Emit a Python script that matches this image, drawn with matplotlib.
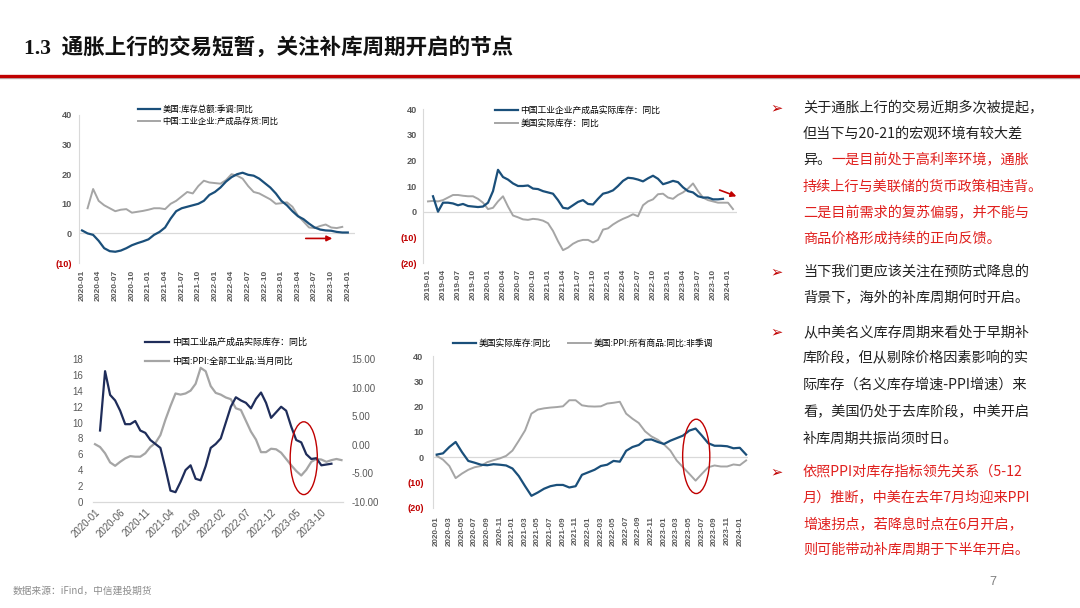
import matplotlib
matplotlib.use("Agg")
import matplotlib.pyplot as plt
from matplotlib.patches import Ellipse

plt.rcParams['font.family'] = ['Liberation Sans', 'Noto Sans CJK SC', 'DejaVu Sans']

W, H = 1080, 608
BLUE = '#1A4F7A'
NAVY = '#1F2D5A'
GRAY = '#A5A5A5'
RED = '#C00000'
TXT_RED = '#E0201E'
TICK = '#595959'
CJK = ['Noto Sans CJK SC', 'DejaVu Sans']

# ---- chart 1 : 2020-01 .. 2024-01 (monthly index 0..48)
c1_us_total = [1, 0, -0.5, -2.5, -5, -6, -6.2, -5.8, -5, -4, -3.3, -2.7,
               -2, -0.5, 0.5, 2, 5, 7.5, 8.5, 9, 9.5, 10, 11, 13,
               14, 15.5, 17.5, 19, 20, 20.5, 19.8, 19.5, 18.5, 17, 15.5, 13.5,
               11, 9.5, 7.5, 5.8, 4.8, 3.3, 2, 1.3, 1, 0.9, 0.5, 0.3,
               0.3]
# 2020-02 .. 2023-12
c1_cn_goods = [8.5, 15, 11, 9.5, 8.5, 7.5, 8, 8.2, 7, 7.3, 7.6,
               8, 8.5, 8.5, 8.2, 10, 11, 12.5, 14, 13.5, 16, 17.8, 17.2,
               17, 16.8, 18, 20, 19.5, 18.5, 16, 14, 13.5, 12.5, 11.5, 10,
               10.2, 10.5, 9, 6, 4, 2, 1.8, 2.5, 3, 2, 1.8, 2.2]
c1_ticks = ['2020-01', '2020-04', '2020-07', '2020-10', '2021-01', '2021-04',
            '2021-07', '2021-10', '2022-01', '2022-04', '2022-07', '2022-10',
            '2023-01', '2023-04', '2023-07', '2023-10', '2024-01']

# ---- chart 2 : 2019-01 .. 2024-02 (index 0..61)
# 2019-02 .. 2023-12
c2_cn_real = [6, 0, 3.5, 3.5, 3.2, 2.5, 3, 2.2, 2, 1.8, 2,
              3.5, 8, 16.3, 13.5, 12.5, 11, 10, 10, 10.2, 9, 8.8, 8,
              7.5, 7, 4.5, 1.5, 1.2, 2.5, 3.8, 4.5, 3, 2.8, 5, 7,
              7.5, 8.3, 10, 12, 13.2, 13, 12.5, 11.8, 13, 14, 12.8, 10.7,
              11.3, 12, 11.5, 9.5, 8, 7.5, 6, 5.5, 5.5, 4.8, 4.8, 5]
# 2019-01 .. 2024-02
c2_us_real = [4, 4.2, 4, 4.5, 5.5, 6.5, 6.5, 6.2, 6, 6, 5, 3.5,
              1, 1.5, 4, 6, 2, -1.5, -2.2, -3, -3.2, -2.8, -3, -3.5,
              -4.5, -7.5, -11.5, -15, -14, -12.5, -11.5, -11, -11, -12, -11, -7,
              -6.5, -5, -3.8, -2.8, -2, -1, -1.8, 2.5, 4, 4.8, 6.8, 7,
              5.5, 5, 6.5, 7.5, 9, 11, 8, 5.5, 4.5, 4, 3.5, 3.5,
              3.5, 1]
c2_ticks = ['2019-01', '2019-04', '2019-07', '2019-10', '2020-01', '2020-04',
            '2020-07', '2020-10', '2021-01', '2021-04', '2021-07', '2021-10',
            '2022-01', '2022-04', '2022-07', '2022-10', '2023-01', '2023-04',
            '2023-07', '2023-10', '2024-01']

# ---- chart 3 : 2020-01 .. 2024-02
# 2020-02 .. 2023-12 (left axis)
c3_cn_real = [9, 16.5, 13.5, 12.8, 11.5, 9.8, 9.8, 10.2, 9, 8.7, 7.8,
              7.3, 6.8, 4.2, 1.4, 1.2, 2.5, 4, 4.6, 2.9, 2.7, 4.5, 6.8,
              7.3, 8, 10, 12, 13.2, 12.8, 12.5, 11.8, 13, 13.8, 12.5, 10.6,
              11.3, 12, 11.5, 9.5, 7.8, 7.5, 6, 5.4, 5.5, 4.6, 4.7, 4.8]
# 2020-01 .. 2024-02 (right axis)
c3_cn_ppi = [0.1, -0.4, -1.5, -3.1, -3.7, -3.0, -2.4, -2.0, -2.1, -2.1, -1.5, -0.4,
             0.3, 1.7, 4.4, 6.8, 9.0, 8.8, 9.0, 9.5, 10.7, 13.5, 12.9, 10.3,
             9.1, 8.8, 8.3, 8.0, 6.4, 6.1, 4.2, 2.3, 0.9, -1.3, -1.3, -0.7,
             -0.8, -1.4, -2.5, -3.6, -4.6, -5.4, -4.4, -3.0, -2.5, -2.6, -3.0, -2.7,
             -2.5, -2.7]
c3_ticks = ['2020-01', '2020-06', '2020-11', '2021-04', '2021-09', '2022-02',
            '2022-07', '2022-12', '2023-05', '2023-10']

# ---- chart 4 : 2020-01 .. 2024-02
c4_us_real = [1, 1.5, 4, 6, 2, -1.5, -2.2, -3, -3.2, -2.8, -3, -3.3,
              -4.5, -7.5, -11.5, -15.3, -14, -12.5, -11.5, -11, -11, -12, -11.5, -7,
              -6, -5, -3.5, -3, -1.5, -1.8, 2.5, 4, 4.8, 6.8, 7, 6,
              5.2, 6.5, 7.5, 8.5, 10.5, 11.3, 8.5, 5.5, 4.5, 4.5, 4.3, 3.5,
              3.7, 1]
c4_us_ppi = [0.5, -1, -3.5, -8.3, -6.5, -5, -4, -3.5, -2, -1.2, -0.5, 0.5,
             2.6, 6.5, 10.6, 17.2, 18.8, 19.3, 19.6, 19.8, 20.1, 22.5, 22.5, 20.5,
             20.1, 20, 20.1, 21.2, 21.5, 21.9, 17.2, 15.2, 13.5, 10.2, 8.2, 6.9,
             5, 2.6, -1.3, -4, -6.6, -9.3, -6.6, -4, -3.3, -3.7, -3.7, -2.9,
             -3.2, -1.3]
c4_ticks = ['2020-01', '2020-03', '2020-05', '2020-07', '2020-09', '2020-11',
            '2021-01', '2021-03', '2021-05', '2021-07', '2021-09', '2021-11',
            '2022-01', '2022-03', '2022-05', '2022-07', '2022-09', '2022-11',
            '2023-01', '2023-03', '2023-05', '2023-07', '2023-09', '2023-11',
            '2024-01']

fig = plt.figure(figsize=(W / 100, H / 100), dpi=100)


def axes_px(x0, y0, x1, y1):
    return fig.add_axes([x0 / W, 1 - y1 / H, (x1 - x0) / W, (y1 - y0) / H])


def fx(x):
    return x / W


def fy(y):
    return 1 - y / H


def style_ax(ax, yticks, ylabels, xtick_pos, xtick_lab, ypad, xpad, fs):
    for s in ['top', 'right', 'bottom']:
        ax.spines[s].set_visible(False)
    ax.spines['left'].set_color('#D9D9D9')
    ax.axhline(0, color='#D9D9D9', lw=0.9, zorder=0)
    ax.set_yticks(yticks)
    ax.set_yticklabels(ylabels, fontsize=6.6, fontweight='bold', color=TICK)
    for t in ax.get_yticklabels():
        if t.get_text().startswith('('):
            t.set_color(RED)
    ax.set_xticks(xtick_pos)
    ax.set_xticklabels(xtick_lab, rotation=90, fontsize=fs, fontweight='bold', color=TICK)
    ax.tick_params(axis='y', length=0, pad=ypad)
    ax.tick_params(axis='x', length=0, pad=xpad)


# ---------------- chart 1
ax1 = axes_px(79, 115, 355, 263)
ax1.plot(range(len(c1_us_total)), c1_us_total, color=BLUE, lw=1.6, zorder=3,
         label='美国:库存总额:季调:同比')
ax1.plot(range(1, 1 + len(c1_cn_goods)), c1_cn_goods, color=GRAY, lw=1.4, zorder=2,
         label='中国:工业企业:产成品存货:同比')
ax1.set_xlim(-0.55, 49.3)
ax1.set_ylim(-10, 40)
style_ax(ax1, [-10, 0, 10, 20, 30, 40], ['(10)', '0', '10', '20', '30', '40'],
         range(0, 49, 3), c1_ticks, 5, 5, 6)
ax1.annotate('', xy=(45.7, -1.7), xytext=(39.9, -1.7), annotation_clip=False,
             arrowprops=dict(arrowstyle='-|>', color=RED, lw=1.2, mutation_scale=8))
ax1.legend(loc='upper left', bbox_to_anchor=(fx(138), fy(105)), bbox_transform=fig.transFigure,
           frameon=False, handlelength=2.6, handletextpad=0.3,
           labelspacing=0.4, borderpad=0, borderaxespad=0, prop={'family': CJK, 'size': 6})

# ---------------- chart 2
ax2 = axes_px(422.7, 109, 737, 263)
ax2.plot(range(1, 1 + len(c2_cn_real)), c2_cn_real, color=BLUE, lw=1.6, zorder=3,
         label='中国工业企业产成品实际库存：同比')
ax2.plot(range(len(c2_us_real)), c2_us_real, color=GRAY, lw=1.4, zorder=2,
         label='美国实际库存：同比')
ax2.set_xlim(-1.06, 61.8)
ax2.set_ylim(-20, 40)
style_ax(ax2, [-20, -10, 0, 10, 20, 30, 40], ['(20)', '(10)', '0', '10', '20', '30', '40'],
         range(0, 61, 3), c2_ticks, 4, 4, 6)
ax2.annotate('', xy=(62.2, 5.6), xytext=(57.8, 8.8), annotation_clip=False,
             arrowprops=dict(arrowstyle='-|>', color=RED, lw=1.2, mutation_scale=8))
ax2.legend(loc='upper left', bbox_to_anchor=(fx(495), fy(106)), bbox_transform=fig.transFigure,
           frameon=False, handlelength=2.6, handletextpad=0.3,
           labelspacing=0.45, borderpad=0, borderaxespad=0, prop={'family': CJK, 'size': 6.3})

# ---------------- chart 3
ax3 = axes_px(93, 359.3, 343, 501.7)
ax3r = ax3.twinx()
ax3.set_zorder(ax3r.get_zorder() + 1)
ax3.patch.set_visible(False)
l31, = ax3.plot(range(1, 1 + len(c3_cn_real)), c3_cn_real, color=NAVY, lw=1.6,
                label='中国工业品产成品实际库存：同比')
l32, = ax3r.plot(range(len(c3_cn_ppi)), c3_cn_ppi, color=GRAY, lw=1.6,
                 label='中国:PPI:全部工业品:当月同比')
ax3.set_xlim(-0.4, 49.3)
ax3.set_ylim(0, 18)
ax3r.set_ylim(-10, 15)
for a in (ax3, ax3r):
    for s in ['top', 'right', 'left']:
        a.spines[s].set_visible(False)
    a.spines['bottom'].set_color('#D9D9D9')
ax3.set_yticks(range(0, 19, 2))
ax3.set_yticklabels([str(v) for v in range(0, 19, 2)], fontsize=7, color=TICK)
r_ticks = [-10, -5, 0, 5, 10, 15]
ax3r.set_yticks(r_ticks)
ax3r.set_yticklabels(['%.2f' % v for v in r_ticks], fontsize=7, color=TICK)
ax3.set_xticks(range(0, 46, 5))
ax3.set_xticklabels(c3_ticks, rotation=45, ha='right', rotation_mode='anchor',
                    fontsize=7, color=TICK)
ax3.tick_params(axis='y', length=0, pad=7)
ax3r.tick_params(axis='y', length=0, pad=6)
ax3.tick_params(axis='x', length=0, pad=4)
ax3.add_patch(Ellipse((41.5, 5.5), 5.4, 9.2, fill=False, edgecolor=RED, lw=1.0, zorder=5))
ax3.legend(handles=[l31, l32], loc='upper left', bbox_to_anchor=(fx(145), fy(338)),
           bbox_transform=fig.transFigure, frameon=False, handlelength=2.7,
           handletextpad=0.3, labelspacing=1.05, borderpad=0, borderaxespad=0,
           prop={'family': CJK, 'size': 6.5})

# ---------------- chart 4
ax4 = axes_px(433.3, 356, 748, 507.7)
ax4.plot(range(len(c4_us_real)), c4_us_real, color=BLUE, lw=1.6, zorder=3,
         label='美国实际库存:同比')
ax4.plot(range(len(c4_us_ppi)), c4_us_ppi, color=GRAY, lw=1.4, zorder=2,
         label='美国:PPI:所有商品:同比:非季调')
ax4.set_xlim(-0.54, 49.3)
ax4.set_ylim(-20, 40)
style_ax(ax4, [-20, -10, 0, 10, 20, 30, 40], ['(20)', '(10)', '0', '10', '20', '30', '40'],
         range(0, 49, 2), c4_ticks, 7, 6, 5.8)
ax4.add_patch(Ellipse((41.1, 0.3), 4.3, 29.4, fill=False, edgecolor=RED, lw=1.0, zorder=5))
ax4.legend(loc='upper left', bbox_to_anchor=(fx(453), fy(339)), bbox_transform=fig.transFigure,
           frameon=False, ncol=2, handlelength=2.6, handletextpad=0.3, columnspacing=2.0,
           borderpad=0, borderaxespad=0, prop={'family': CJK, 'size': 6.3})

# ---------------- title and frame
fig.text(fx(24), fy(48), '1.3  通胀上行的交易短暂，关注补库周期开启的节点',
         family=['Liberation Serif', 'Noto Sans CJK SC'], fontweight='bold',
         fontsize=15.5, va='center', ha='left', color='#111111')
fig.add_artist(plt.Line2D([0, 1], [fy(78), fy(78)], color='#BBBBBB', lw=1.0))
fig.add_artist(plt.Line2D([0, 1], [fy(75.5), fy(75.5)], color=RED, lw=2.4))

# ---------------- right text
TX, BX = 803, 777
lines = [
    (108, True, [('关于通胀上行的交易近期多次被提起，', 'k')]),
    (134, False, [('但当下与20-21的宏观环境有较大差', 'k')]),
    (160, False, [('异。', 'k'), ('一是目前处于高利率环境，通胀', 'r')]),
    (187, False, [('持续上行与美联储的货币政策相违背。', 'r')]),
    (213, False, [('二是目前需求的复苏偏弱，并不能与', 'r')]),
    (239, False, [('商品价格形成持续的正向反馈。', 'r')]),
    (272, True, [('当下我们更应该关注在预防式降息的', 'k')]),
    (298, False, [('背景下，海外的补库周期何时开启。', 'k')]),
    (332, True, [('从中美名义库存周期来看处于早期补', 'k')]),
    (358, False, [('库阶段，但从剔除价格因素影响的实', 'k')]),
    (385, False, [('际库存（名义库存增速-PPI增速）来', 'k')]),
    (411, False, [('看，美国仍处于去库阶段，中美开启', 'k')]),
    (438, False, [('补库周期共振尚须时日。', 'k')]),
    (472, True, [('依照PPI对库存指标领先关系（5-12', 'r')]),
    (498, False, [('月）推断，中美在去年7月均迎来PPI', 'r')]),
    (525, False, [('增速拐点，若降息时点在6月开启，', 'r')]),
    (550, False, [('则可能带动补库周期于下半年开启。', 'r')]),
]
FS = 10.2
for y, bullet, parts in lines:
    if bullet:
        fig.text(fx(BX), fy(y), '➢', family=['DejaVu Sans'], fontsize=10.5,
                 color=RED, ha='center', va='center')
    x = TX
    for s, c in parts:
        fig.text(fx(x), fy(y), s, family=CJK, fontsize=FS, ha='left', va='center',
                 color=TXT_RED if c == 'r' else '#222222')
        x += len(s) * FS * 100 / 72

fig.text(fx(13), fy(591), '数据来源：iFind，中信建投期货', family=CJK, fontsize=7,
         color='#8C8C8C', ha='left', va='center', style='italic')
fig.text(fx(993), fy(582), '7', fontsize=9, color='#7F7F7F', ha='center', va='center')

fig.savefig('out.png', dpi=100)
